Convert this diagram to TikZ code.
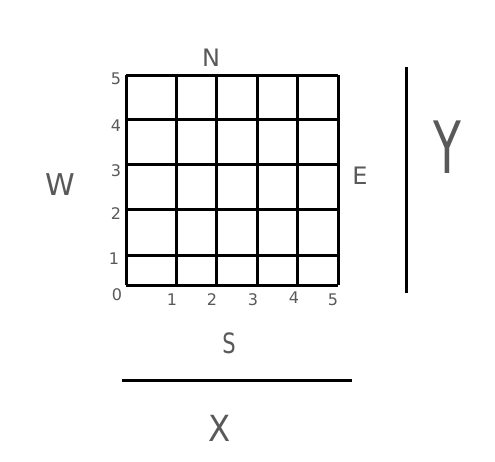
\documentclass[tikz,border=0pt]{standalone}
\usepackage{fontspec}
\setsansfont{DejaVu Sans}
\begin{document}
\begin{tikzpicture}[x=1pt,y=-1pt,
  gridline/.style={line width=3pt,black},
  axisline/.style={line width=3pt,black},
  lbl/.style={text=black!65,font=\sffamily\fontsize{16}{16}\selectfont,inner sep=0pt},
  big/.style={text=black!65,font=\sffamily\fontsize{24}{24}\selectfont,inner sep=0pt}]
\useasboundingbox (0,0) rectangle (495,461);
% vertical lines
\foreach \x in {126,176,216,257,297,338}{
  \draw[gridline] (\x,75) -- (\x,285);
}
% horizontal lines
\foreach \y in {75,119,164,209,255,285}{
  \draw[gridline] (126,\y) -- (338,\y);
}
% left labels
\node[lbl] (l5) at (116,79) {5};
\node[lbl] (l4) at (116,126) {4};
\node[lbl] (l3) at (116,171) {3};
\node[lbl] (l2) at (116,214) {2};
\node[lbl] (l1) at (114,259) {1};
\node[lbl] (l0) at (117,295) {0};
% bottom labels
\node[lbl] (b1) at (172,300) {1};
\node[lbl] (b2) at (212,300) {2};
\node[lbl] (b3) at (253,300) {3};
\node[lbl] (b4) at (294,298) {4};
\node[lbl] (b5) at (333,300) {5};
% compass
\node[big,font=\sffamily\fontsize{24}{24}\selectfont] (N) at (211,58) {N};
\node[big,font=\sffamily\fontsize{24}{24}\selectfont] (E) at (360,176) {E};
\node[big,font=\sffamily\fontsize{30}{30}\selectfont] (W) at (60,185) {W};
\node[big,font=\sffamily\fontsize{28}{28}\selectfont,xscale=0.75] (S) at (229,343) {S};
% axes
\coordinate (xa) at (122,380);
\coordinate (xb) at (352,380);
\draw[axisline] (xa) -- (xb);
\coordinate (ya) at (406,67);
\coordinate (yb) at (406,293);
\draw[axisline] (ya) -- (yb);
\node[big,font=\sffamily\fontsize{36}{36}\selectfont,xscale=0.9] (X) at (220,428) {X};
\node[big,font=\sffamily\fontsize{38}{38}\selectfont,yscale=1.9,xscale=1.2] (Y) at (447,147) {Y};
\end{tikzpicture}
\end{document}
